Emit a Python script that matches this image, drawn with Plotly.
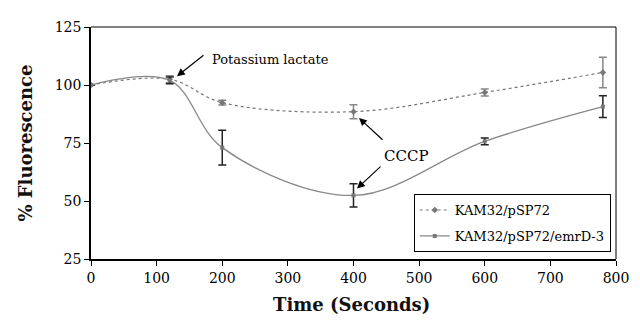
import plotly.graph_objects as go

time_s = [0, 120, 200, 400, 600, 780]
ctrl_vals = [100, 102.5, 92.4, 88.5, 96.8, 105.4]
ctrl_err = [0, 1.5, 1.0, 3.0, 1.5, 6.6]
emrd_vals = [100, 102.0, 73.0, 52.4, 75.7, 90.7]
emrd_err = [0, 1.5, 7.5, 5.0, 1.5, 4.7]
series_names = ["KAM32/pSP72", "KAM32/pSP72/emrD-3"]
x_ticks = [0, 100, 200, 300, 400, 500, 600, 700, 800]
y_ticks = [25, 50, 75, 100, 125]

FONT = "DejaVu Serif"

fig = go.Figure()
fig.add_trace(go.Scatter(
    x=time_s, y=ctrl_vals, name=series_names[0], mode="lines+markers", legendgroup="a",
    line=dict(color="#777777", width=1.2, dash="dot", shape="spline", smoothing=1),
    marker=dict(symbol="diamond", size=5, color="#777777"),
    error_y=dict(type="data", array=ctrl_err, visible=True, color="#888888", thickness=1.5, width=4),
))
fig.add_trace(go.Scatter(
    x=time_s, y=emrd_vals, name=series_names[1], mode="lines+markers", legendgroup="b",
    line=dict(color="#888888", width=1.3, shape="spline", smoothing=1),
    marker=dict(symbol="square", size=4, color="#777777"),
    error_y=dict(type="data", array=emrd_err, visible=True, color="#222222", thickness=1.5, width=4),
))

arrow = dict(showarrow=True, arrowhead=2, arrowsize=1.3, arrowwidth=1.2, arrowcolor="black",
             xref="x", yref="y", axref="x", ayref="y", text="")
fig.add_annotation(x=131, y=103.8, ax=173.7, ay=113.3, **arrow)
fig.add_annotation(x=408.4, y=85.8, ax=446.5, ay=75.8, **arrow)
fig.add_annotation(x=405.3, y=55.4, ax=443.4, ay=65.4, **arrow)
fig.add_annotation(x=272.8, y=110.8, text="Potassium lactate", showarrow=False,
                   font=dict(family=FONT, size=13, color="black"))
fig.add_annotation(x=481.5, y=69.6, text="CCCP", showarrow=False,
                   font=dict(family=FONT, size=15, color="black"))
# x-axis title as paper annotation for exact placement
fig.add_annotation(x=0.497, y=-0.196, xref="paper", yref="paper", yanchor="middle",
                   text="<b>Time (Seconds)</b>", showarrow=False,
                   font=dict(family=FONT, size=18, color="#111"))

axis_common = dict(showgrid=False, zeroline=False, showline=True, linecolor="black", linewidth=1.5,
                   ticks="outside", ticklen=5, tickcolor="black", mirror=False,
                   tickfont=dict(family=FONT, size=14, color="black"))
fig.update_xaxes(range=[0, 800], tickvals=x_ticks, **axis_common)
fig.update_yaxes(range=[25, 125], tickvals=y_ticks,
                 title=dict(text="<b>% Fluorescence</b>", font=dict(family=FONT, size=18, color="#111"), standoff=17),
                 **axis_common)

fig.add_shape(type="line", xref="paper", yref="paper", x0=0, x1=1, y0=1, y1=1, line=dict(color="black", width=1))
fig.add_shape(type="line", xref="paper", yref="paper", x0=1, x1=1, y0=0, y1=1, line=dict(color="black", width=1))

fig.update_layout(
    width=632, height=313,
    margin=dict(l=83, r=24, t=11, b=62),
    plot_bgcolor="white", paper_bgcolor="white",
    font=dict(family=FONT, color="black"),
    legend=dict(x=0.99, y=0.03, xanchor="right", yanchor="bottom",
                bordercolor="black", borderwidth=1, bgcolor="white",
                font=dict(family=FONT, size=13, color="black"), tracegroupgap=6),
    showlegend=True,
)

fig.write_html("out.html")
